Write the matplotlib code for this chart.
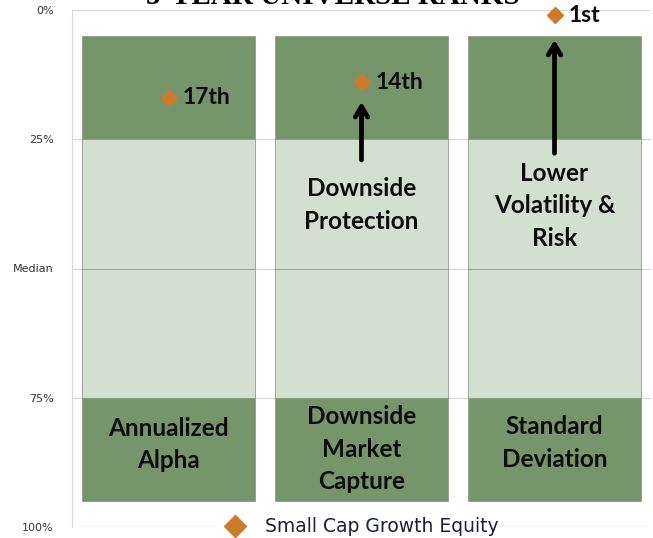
import matplotlib
matplotlib.use("Agg")
import matplotlib.pyplot as plt
from matplotlib.lines import Line2D

# ---- data ----
categories = ["Annualized\nAlpha", "Downside\nMarket\nCapture", "Standard\nDeviation"]
ranks = [17, 14, 1]
rank_labels = ["17th", "14th", "1st"]
bar_start = [5, 5, 5]
seg_top_quartile = [20, 20, 20]      # 5 -> 25
seg_second_quartile = [25, 25, 25]   # 25 -> 50
seg_third_quartile = [25, 25, 25]    # 50 -> 75
seg_bottom_quartile = [20, 20, 20]   # 75 -> 95
ytick_vals = [0, 25, 50, 75, 100]
ytick_labels = ["0%", "25%", "Median", "75%", "100%"]
series_name = "Small Cap Growth Equity"
title = "5-YEAR UNIVERSE RANKS"
notes = ["", "Downside\nProtection", "Lower\nVolatility &\nRisk"]
note_y = [None, 37.7, 37.9]
arrow_tail = [None, 29.0, 27.7]
arrow_head = [None, 17.8, 5.8]
cat_label_y = [84.0, 85.0, 83.8]

DARK = "#76956a"
LIGHT = "#d3dfcf"
ORANGE = "#cc7a2c"
EDGE = "#8f9a8c"

fig = plt.figure(figsize=(6.53, 5.38), dpi=100)
ax = fig.add_axes([72/653, 1-527/538, (651-72)/653, (527-10)/538])

x = list(range(len(categories)))
w = 0.9
bottoms = list(bar_start)
for seg, col in [(seg_top_quartile, DARK), (seg_second_quartile, LIGHT),
                 (seg_third_quartile, LIGHT), (seg_bottom_quartile, DARK)]:
    ax.bar(x, seg, width=w, bottom=bottoms, color=col, edgecolor=EDGE,
           linewidth=0.6, zorder=2)
    bottoms = [b + s for b, s in zip(bottoms, seg)]

ax.set_xlim(-0.5, 2.5)
ax.set_ylim(100, 0)
ax.set_yticks(ytick_vals)
ax.set_yticklabels(ytick_labels, fontsize=8, color="#333333")
ax.tick_params(axis="y", length=0, pad=13)
ax.set_xticks([])
ax.grid(axis="y", color="#d9d9d9", linewidth=0.9, zorder=0)
for s in ["top", "right", "bottom"]:
    ax.spines[s].set_visible(False)
ax.spines["left"].set_color("#d9d9d9")

bold = dict(family=["Lato", "DejaVu Sans"], fontweight="bold", color="#0d0d0d")

# points
ax.plot(x, ranks, linestyle="none", marker="D", markersize=8, color=ORANGE,
        zorder=5, clip_on=False)
for xi, r, lab in zip(x, ranks, rank_labels):
    ax.annotate(lab, (xi, r), xytext=(10, 0), textcoords="offset points",
                ha="left", va="center", fontsize=16.5, zorder=6, **bold)

# category labels
for xi, cat, cy in zip(x, categories, cat_label_y):
    ax.text(xi, cy, cat, ha="center", va="center", fontsize=17.5,
            linespacing=1.5, zorder=6, **bold)

# notes and arrows
for xi, note, ny, t, h in zip(x, notes, note_y, arrow_tail, arrow_head):
    if not note:
        continue
    ax.text(xi, ny, note, ha="center", va="center", fontsize=17.5,
            linespacing=1.5, zorder=6, **bold)
    ax.annotate("", xy=(xi, h), xytext=(xi, t),
                arrowprops=dict(arrowstyle="->,head_length=0.75,head_width=0.45",
                                lw=3.4, color="black", shrinkA=0, shrinkB=0),
                zorder=6)

# title (cut off at top, as in the reference)
fig.text(333/653, 1-3.5/538, title, ha="center", va="baseline",
         fontsize=21, fontweight="bold", family="Liberation Serif", color="black")

# legend
handle = Line2D([], [], linestyle="none", marker="D", markersize=11, color=ORANGE)
leg = fig.legend([handle], [series_name], loc="center",
                 bbox_to_anchor=(361/653, 1-527/538), frameon=True,
                 prop=dict(size=13.5), handletextpad=1.0, borderpad=0.2,
                 handlelength=1.2)
leg.get_frame().set_facecolor("white")
leg.get_frame().set_edgecolor("white")
leg.get_frame().set_boxstyle("square", pad=0.0)
for t in leg.get_texts():
    t.set_color("#1f1f3a")

fig.savefig("out.png", dpi=100)
